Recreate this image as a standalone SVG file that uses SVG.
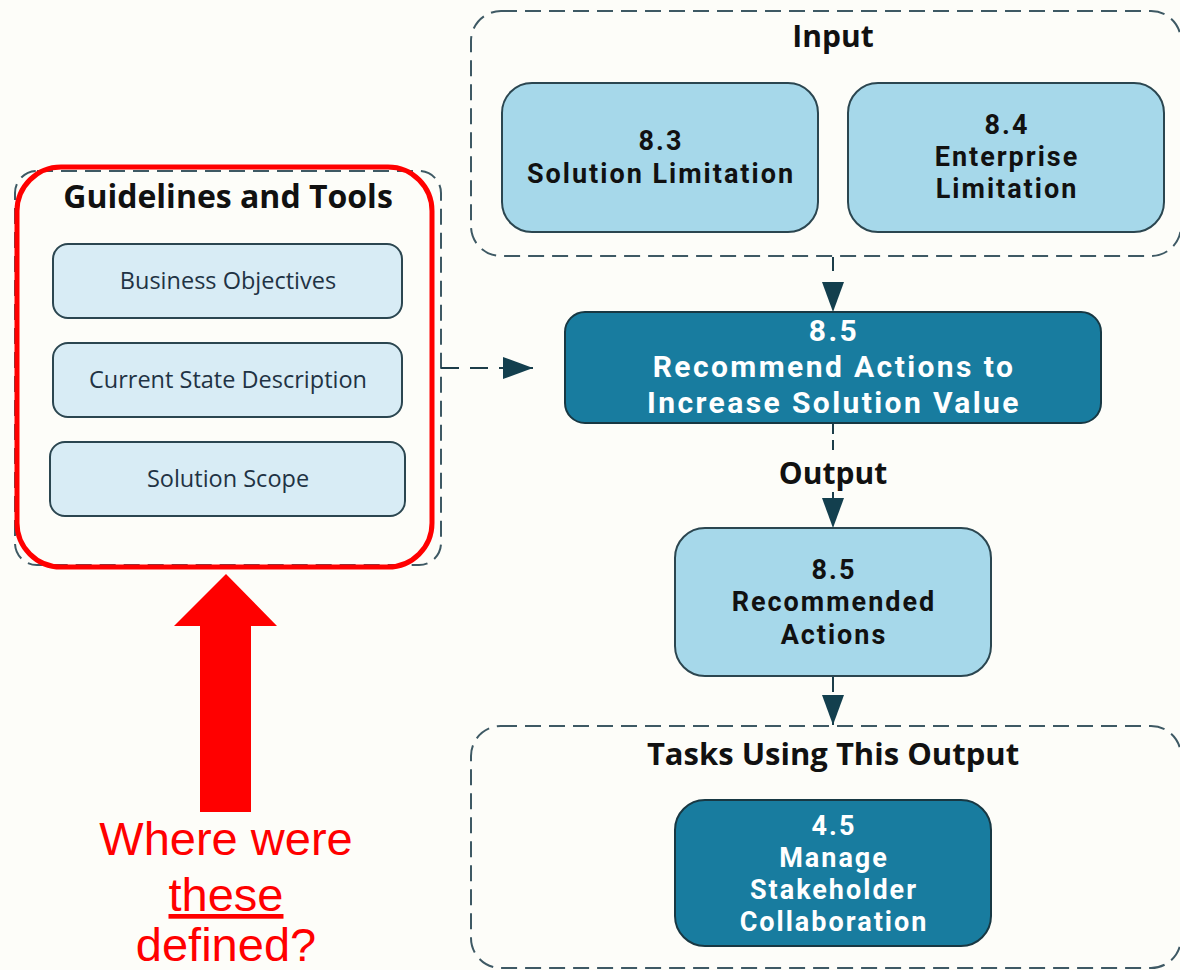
<svg xmlns="http://www.w3.org/2000/svg" width="1180" height="970" viewBox="0 0 1180 970">
<style>
.bg{fill:#fdfdf9}
.dash{fill:none;stroke:#3e5964;stroke-width:2;stroke-dasharray:16 8}
.light{fill:#a6d8ea;stroke:#2b4650;stroke-width:2}
.dark{fill:#187c9f;stroke:#183843;stroke-width:2}
.pale{fill:#d8ecf5;stroke:#2b4650;stroke-width:2}
.t{font-family:"Open Sans","Noto Sans",sans-serif;font-weight:700;text-anchor:middle}
.r{font-family:Roboto,"Liberation Sans",sans-serif;font-weight:700;text-anchor:middle;font-size:27px;letter-spacing:2px}
.rm{font-family:Roboto,"Liberation Sans",sans-serif;font-weight:700;text-anchor:middle;font-size:30px;letter-spacing:2.4px}
.tb{fill:#111}
.tw{fill:#fff}
.g{font-family:"Open Sans","Noto Sans",sans-serif;font-size:23.5px;fill:#1f3344;text-anchor:middle}
.conn{fill:none;stroke:#1c3d49;stroke-width:2;stroke-dasharray:18 11}
.red{font-family:"Liberation Sans",Arial,sans-serif;font-size:47px;fill:#ff0000;text-anchor:middle}
</style>
<defs>
<marker id="ah" markerUnits="userSpaceOnUse" markerWidth="32" markerHeight="24" refX="30" refY="11" orient="auto">
<path d="M0,0 L30,11 L0,22 Z" fill="#133f4e"/>
</marker>
</defs>
<rect class="bg" x="0" y="0" width="1180" height="970"/>

<g id="guidelines">
<rect class="dash" x="15" y="171" width="426" height="394" rx="22"/>
<text class="t tb" x="228" y="208" font-size="32">Guidelines and Tools</text>
</g>
<g id="business-objectives">
<rect class="pale" x="53" y="244" width="349" height="74" rx="15"/>
<text class="g" x="228" y="289">Business Objectives</text>
</g>
<g id="current-state">
<rect class="pale" x="53" y="343" width="349" height="74" rx="15"/>
<text class="g" x="228" y="388">Current State Description</text>
</g>
<g id="solution-scope">
<rect class="pale" x="50" y="442" width="355" height="74" rx="15"/>
<text class="g" x="228" y="487">Solution Scope</text>
</g>
<g id="highlight">
<rect x="17" y="167" width="415" height="400" rx="44" fill="none" stroke="#ff0000" stroke-width="5"/>
</g>

<g id="input">
<rect class="dash" x="471" y="11" width="710" height="245" rx="30"/>
<text class="t tb" x="833" y="47" font-size="30">Input</text>
</g>
<g id="n83">
<rect class="light" x="502" y="83" width="316" height="149" rx="30"/>
<text class="r tb" x="661" y="150">8.3</text>
<text class="r tb" x="661" y="183">Solution Limitation</text>
</g>
<g id="n84">
<rect class="light" x="848" y="83" width="316" height="149" rx="30"/>
<text class="r tb" x="1007" y="134">8.4</text>
<text class="r tb" x="1007" y="166">Enterprise</text>
<text class="r tb" x="1007" y="198">Limitation</text>
</g>

<g id="n85task">
<rect class="dark" x="565" y="312" width="536" height="111" rx="20"/>
<text class="rm tw" x="834" y="341">8.5</text>
<text class="rm tw" x="834" y="377">Recommend Actions to</text>
<text class="rm tw" x="834" y="413">Increase Solution Value</text>
</g>

<g id="output-label">
<text class="t tb" x="833" y="484" font-size="30">Output</text>
</g>

<g id="n85out">
<rect class="light" x="675" y="528" width="316" height="148" rx="30"/>
<text class="r tb" x="834" y="579">8.5</text>
<text class="r tb" x="834" y="611">Recommended</text>
<text class="r tb" x="834" y="644">Actions</text>
</g>

<g id="tasks">
<rect class="dash" x="471" y="726" width="710" height="242" rx="30"/>
<text class="t tb" x="833" y="765" font-size="31">Tasks Using This Output</text>
</g>
<g id="n45">
<rect class="dark" x="675" y="800" width="316" height="146" rx="30"/>
<text class="r tw" x="834" y="835">4.5</text>
<text class="r tw" x="834" y="867">Manage</text>
<text class="r tw" x="834" y="899">Stakeholder</text>
<text class="r tw" x="834" y="931">Collaboration</text>
</g>

<g id="connectors">
<line class="conn" x1="833" y1="257" x2="833" y2="312" marker-end="url(#ah)" style="stroke-dasharray:14 20"/>
<line class="conn" x1="833" y1="424" x2="833" y2="456" style="stroke-dasharray:10 6"/>
<line class="conn" x1="833" y1="492" x2="833" y2="528" marker-end="url(#ah)" style="stroke-dasharray:6 20"/>
<line class="conn" x1="833" y1="677" x2="833" y2="725" marker-end="url(#ah)" style="stroke-dasharray:15 20"/>
<line class="conn" x1="441" y1="368" x2="533" y2="368" marker-end="url(#ah)"/>
</g>

<g id="question">
<polygon points="226,574 277,626 251,626 251,812 200,812 200,626 174,626" fill="#ff0000"/>
<text class="red" x="226" y="855">Where were</text>
<text class="red" x="226" y="911" text-decoration="underline">these</text>
<text class="red" x="226" y="961">defined?</text>
</g>
</svg>
